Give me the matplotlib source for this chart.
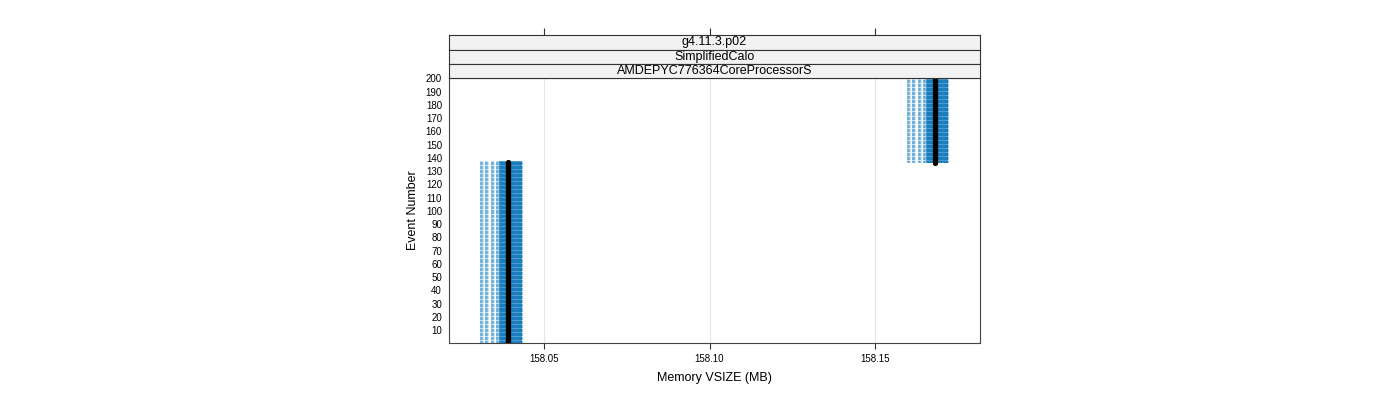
import numpy as np
import matplotlib
matplotlib.use("Agg")
import matplotlib.pyplot as plt

plt.rcParams['font.family'] = ['Liberation Sans', 'DejaVu Sans']

# ---- data ----
strip_labels = ["g4.11.3.p02", "SimplifiedCalo", "AMDEPYC776364CoreProcessorS"]
x_ticks = [158.05, 158.10, 158.15]
x_tick_labels = ["158.05", "158.10", "158.15"]
y_ticks = [10, 20, 30, 40, 50, 60, 70, 80, 90, 100, 110, 120, 130, 140, 150, 160, 170, 180, 190, 200]

# cluster A: events 1..137
events_a_first, events_a_last = 1, 137
runs_a_light = [158.0311, 158.0327, 158.0344, 158.0359]
runs_a_dark = [158.0368, 158.0376, 158.0384, 158.0392, 158.0400, 158.0408, 158.0416, 158.0424, 158.0430]
median_a = 158.0391

# cluster B: events 137..200
events_b_first, events_b_last = 137, 200
runs_b_light = [158.1601, 158.1617, 158.1634, 158.1649]
runs_b_dark = [158.1658, 158.1666, 158.1674, 158.1682, 158.1690, 158.1698, 158.1706, 158.1713, 158.1717]
median_b = 158.1681

xlim = (158.0213, 158.1817)
ylim = (0.2, 200.3)

# ---- figure ----
W, H = 1400, 400
fig = plt.figure(figsize=(14, 4), dpi=100)
L, R, B, T = 449, 980, 343, 78
ax = fig.add_axes([L / W, 1 - B / H, (R - L) / W, (B - T) / H])

light_c = '#86bee2'
edge_c = '#4a98cf'
dark_c = '#1a7dbd'
band_c = '#4d9bd0'
px = (xlim[1] - xlim[0]) / (R - L)

for first, last, light, dark, med in [
    (events_a_first, events_a_last, runs_a_light, runs_a_dark, median_a),
    (events_b_first, events_b_last, runs_b_light, runs_b_dark, median_b),
]:
    ev = np.arange(first, last + 1)
    lo = min(dark) - 1.6 * px
    hi = max(dark) + 1.6 * px
    ax.fill_betweenx([first - 0.5, last + 0.5], lo, hi, color=band_c, lw=0, zorder=2)
    for xv in light:
        ax.fill_betweenx([first - 0.5, last + 0.5], xv - 1.4 * px, xv + 1.4 * px,
                         color='#c4dff0', lw=0, zorder=2)
        ax.hlines(ev, xv - 1.4 * px, xv + 1.4 * px, color=light_c, lw=0.7, zorder=2)
        ax.hlines(ev, xv - 1.4 * px, xv - 0.4 * px, color=edge_c, lw=0.7, zorder=2)
    for xv in dark:
        ax.hlines(ev, xv - 1.6 * px, xv + 1.6 * px, color=dark_c, lw=0.7, zorder=3)
    ax.plot([med, med], [first - 1, last], color='black', lw=3.8,
            solid_capstyle='round', zorder=4)

ax.set_xlim(*xlim)
ax.set_ylim(*ylim)
for xt in x_ticks:
    ax.axvline(xt, color='#e6e6e6', lw=0.8, zorder=0)
ax.set_xticks(x_ticks)
ax.set_xticklabels(x_tick_labels, fontsize=7)
ax.set_yticks(y_ticks)
ax.set_yticklabels([str(v) for v in y_ticks], fontsize=7)
ax.tick_params(axis='x', direction='out', length=4, width=0.8, color='#333333', pad=4)
ax.tick_params(axis='y', length=0, pad=5)
for s in ax.spines.values():
    s.set_color('#444444')
    s.set_linewidth(0.8)
ax.set_xlabel('Memory VSIZE (MB)', fontsize=9, labelpad=6)
ax.set_ylabel('Event Number', fontsize=9, labelpad=5)

# strips
strip_edges = [35, 49.5, 64, 78]
for i, lab in enumerate(strip_labels):
    top, bot = strip_edges[i], strip_edges[i + 1]
    sax = fig.add_axes([L / W, 1 - bot / H, (R - L) / W, (bot - top) / H])
    sax.set_facecolor('#f2f2f2')
    sax.set_xlim(*xlim)
    sax.set_yticks([])
    if i == 0:
        sax.set_xticks(x_ticks)
        sax.xaxis.tick_top()
        sax.tick_params(axis='x', direction='out', length=5, width=0.8,
                        color='#333333', labeltop=False, labelbottom=False)
    else:
        sax.set_xticks([])
    for s in sax.spines.values():
        s.set_color('#333333')
        s.set_linewidth(0.8)
    sax.text(0.5, 0.5, lab, transform=sax.transAxes, ha='center', va='center',
             fontsize=9)

fig.savefig('out.png', dpi=100)
